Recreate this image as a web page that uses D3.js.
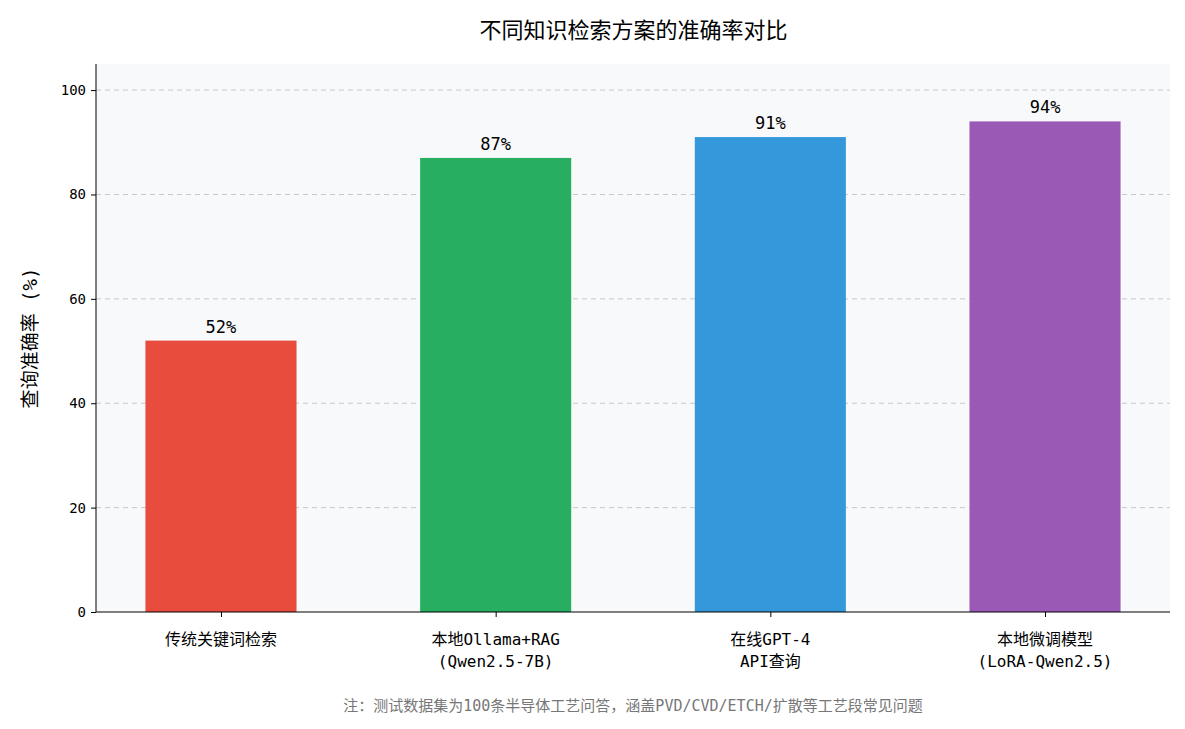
<html>
<head>
<script src="https://cdn.jsdelivr.net/npm/d3@7"></script>
<style>
  body { margin: 0; background: #fff; }
  text { font-family: "DejaVu Sans Mono", "Noto Sans CJK SC", sans-serif; }
</style>
</head>
<body>
<script>
const categories = [["传统关键词检索"], ["本地Ollama+RAG", "(Qwen2.5-7B)"], ["在线GPT-4", "API查询"], ["本地微调模型", "(LoRA-Qwen2.5)"]];
const values = [52, 87, 91, 94];
const colors = ["#e74c3c", "#27ae60", "#3498db", "#9b59b6"];
const yTicks = [0, 20, 40, 60, 80, 100];

const W = 1185, H = 729;
const m = { l: 96, r: 1170, t: 64, b: 612 };
const svg = d3.select("body").append("svg").attr("width", W).attr("height", H);

const x = d3.scaleLinear().domain([-0.455, 3.455]).range([m.l, m.r]);
const y = d3.scaleLinear().domain([0, 105]).range([m.b, m.t]);
const bw = x(0.275) - x(-0.275);

svg.append("rect").attr("x", m.l).attr("y", m.t).attr("width", m.r - m.l).attr("height", m.b - m.t).attr("fill", "#f8f9fa");

// grid
svg.selectAll(".grid").data(yTicks.slice(1)).join("line")
  .attr("x1", m.l).attr("x2", m.r).attr("y1", d => y(d)).attr("y2", d => y(d))
  .attr("stroke", "#c8c8c8").attr("stroke-dasharray", "5,4").attr("stroke-width", 1);

// bars
svg.selectAll(".bar").data(values).join("rect")
  .attr("x", (d, i) => x(i) - bw / 2).attr("width", bw)
  .attr("y", d => y(d)).attr("height", d => y(0) - y(d))
  .attr("fill", (d, i) => colors[i]);

svg.selectAll(".lbl").data(values).join("text")
  .attr("x", (d, i) => x(i)).attr("y", d => y(d) - 8)
  .attr("text-anchor", "middle").attr("font-size", 17).text(d => d + "%");

// axes
const ya = svg.append("g").attr("transform", `translate(${m.l},0)`)
  .call(d3.axisLeft(y).tickValues(yTicks).tickSize(5).tickPadding(5));
ya.select(".domain").attr("d", `M0,${m.t}V${m.b}`).attr("stroke", "#000");
ya.selectAll("text").attr("font-size", 14).attr("fill", "#000");

const xa = svg.append("g").attr("transform", `translate(0,${m.b})`)
  .call(d3.axisBottom(x).tickValues([0, 1, 2, 3]).tickSize(5).tickFormat(""));
xa.select(".domain").attr("d", `M${m.l},0H${m.r}`).attr("stroke", "#000");

categories.forEach((c, i) => {
  c.forEach((s, j) => {
    svg.append("text").attr("x", x(i)).attr("y", m.b + 33 + j * 22)
      .attr("text-anchor", "middle").attr("font-size", 16).text(s);
  });
});

svg.append("text").attr("x", W / 2 + 41).attr("y", 38).attr("text-anchor", "middle")
  .attr("font-size", 22).text("不同知识检索方案的准确率对比");

svg.append("text").attr("transform", `translate(37,${(m.t + m.b) / 2}) rotate(-90)`)
  .attr("text-anchor", "middle").attr("font-size", 19).text("查询准确率 (%)");

svg.append("text").attr("x", 633).attr("y", 711).attr("text-anchor", "middle")
  .attr("font-size", 15).attr("fill", "#777")
  .text("注：测试数据集为100条半导体工艺问答，涵盖PVD/CVD/ETCH/扩散等工艺段常见问题");
</script>
</body>
</html>
